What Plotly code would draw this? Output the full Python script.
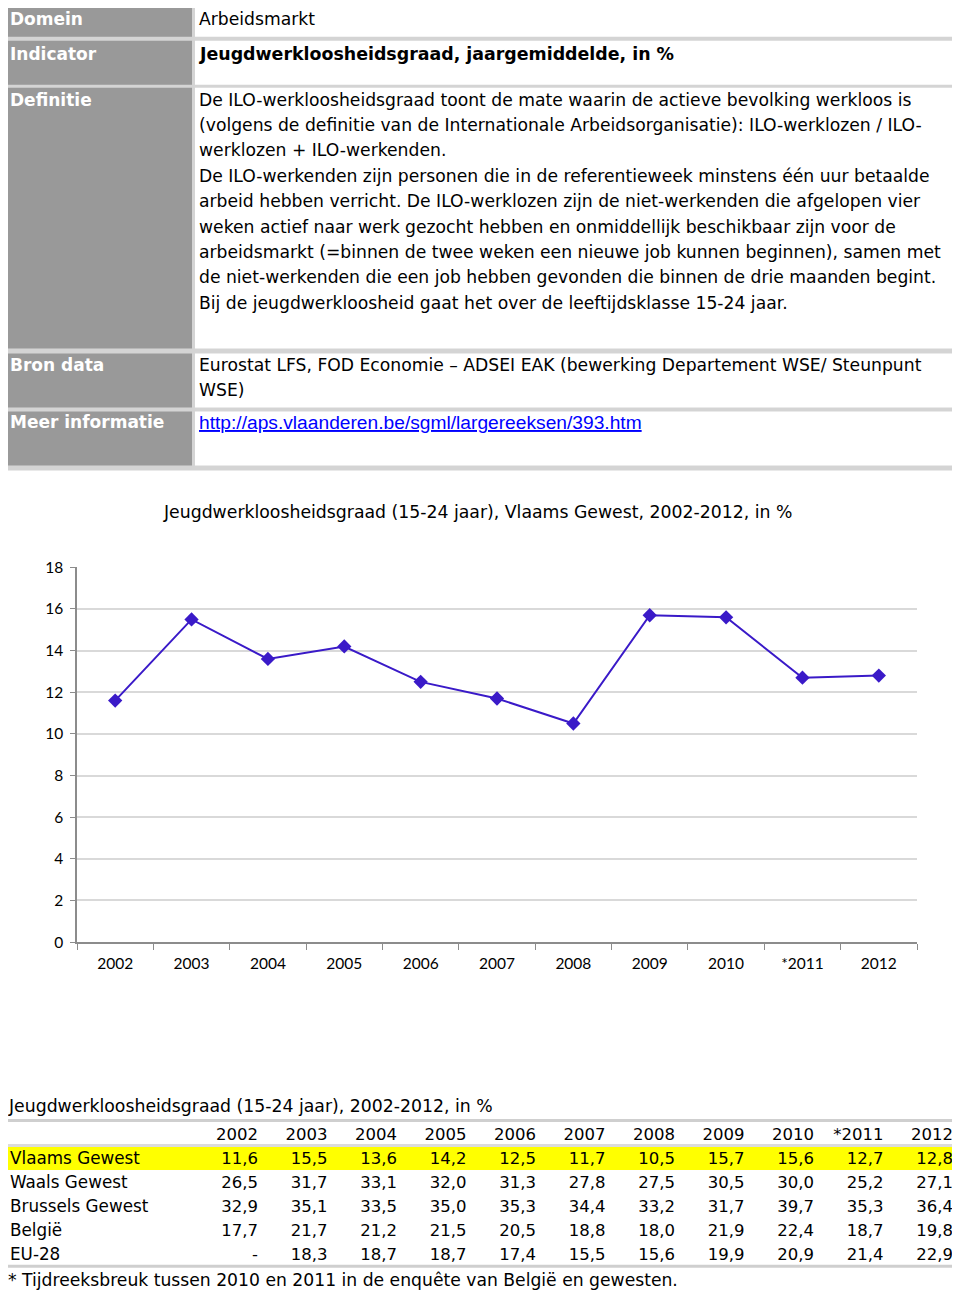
import plotly.graph_objects as go

# ---------------- data ----------------
years = ["2002", "2003", "2004", "2005", "2006", "2007", "2008", "2009", "2010", "*2011", "2012"]
vlaams = [11.6, 15.5, 13.6, 14.2, 12.5, 11.7, 10.5, 15.7, 15.6, 12.7, 12.8]
waals = ["26,5", "31,7", "33,1", "32,0", "31,3", "27,8", "27,5", "30,5", "30,0", "25,2", "27,1"]
brussel = ["32,9", "35,1", "33,5", "35,0", "35,3", "34,4", "33,2", "31,7", "39,7", "35,3", "36,4"]
belgie = ["17,7", "21,7", "21,2", "21,5", "20,5", "18,8", "18,0", "21,9", "22,4", "18,7", "19,8"]
eu28 = ["-", "18,3", "18,7", "18,7", "17,4", "15,5", "15,6", "19,9", "20,9", "21,4", "22,9"]
row_labels = ["Vlaams Gewest", "Waals Gewest", "Brussels Gewest", "België", "EU-28"]
y_ticks = [0, 2, 4, 6, 8, 10, 12, 14, 16, 18]

chart_title = "Jeugdwerkloosheidsgraad (15-24 jaar), Vlaams Gewest, 2002-2012, in %"
table_title = "Jeugdwerkloosheidsgraad (15-24 jaar), 2002-2012, in %"
footnote = "* Tijdreeksbreuk tussen 2010 en 2011 in de enquête van België en gewesten."

definitie = [
    "De ILO-werkloosheidsgraad toont de mate waarin de actieve bevolking werkloos is",
    "(volgens de definitie van de Internationale Arbeidsorganisatie): ILO-werklozen / ILO-",
    "werklozen + ILO-werkenden.",
    "De ILO-werkenden zijn personen die in de referentieweek minstens één uur betaalde",
    "arbeid hebben verricht. De ILO-werklozen zijn de niet-werkenden die afgelopen vier",
    "weken actief naar werk gezocht hebben en onmiddellijk beschikbaar zijn voor de",
    "arbeidsmarkt (=binnen de twee weken een nieuwe job kunnen beginnen), samen met",
    "de niet-werkenden die een job hebben gevonden die binnen de drie maanden begint.",
    "Bij de jeugdwerkloosheid gaat het over de leeftijdsklasse 15-24 jaar.",
]
bron = ["Eurostat LFS, FOD Economie – ADSEI EAK (bewerking Departement WSE/ Steunpunt", "WSE)"]
link = "http://aps.vlaanderen.be/sgml/largereeksen/393.htm"

W, H = 960, 1294
# page offset / effective drawing area of the figure in the photographed page
OX, OY, EH = 8.0, 17.2, 1277.0
def X(px): return (px - OX) / W
def Y(py): return 1 - (py - OY) / EH

FONT = "DejaVu Sans"
fig = go.Figure()

shapes = []
ann = []
def rect(x0, y0, x1, y1, fill):
    shapes.append(dict(type="rect", xref="paper", yref="paper", x0=X(x0), x1=X(x1), y0=Y(y1), y1=Y(y0),
                       fillcolor=fill, line=dict(color=fill, width=0), layer="below"))
def text(x, y, s, size=17, color="black", bold=False, family=FONT, xanchor="left"):
    if bold:
        s = "<b>" + s + "</b>"
    ann.append(dict(xref="paper", yref="paper", x=X(x), y=Y(y), text=s, showarrow=False,
                    xanchor=xanchor, yanchor="middle", font=dict(size=size, color=color, family=family)))

# ---------------- top info table ----------------
rect(0, 2, 962, 470, "#d4d4d4")
rows = [(6, 36, "Domein", 18), (40, 84, "Indicator", 53), (87, 348, "Definitie", 99),
        (353, 407, "Bron data", 364), (411, 465, "Meer informatie", 422)]
for y0, y1, lab, ty in rows:
    rect(3, y0, 192, y1, "#999999")
    rect(195, y0, 955, y1, "#ffffff")
    text(8, ty, lab, size=17, color="white", bold=True)

text(197, 18, "Arbeidsmarkt", size=17.2)
text(197, 53, "Jeugdwerkloosheidsgraad, jaargemiddelde, in %", size=17.4, bold=True)
for i, line in enumerate(definitie):
    text(197, 99 + i * 25.4, line, size=17.2)
text(197, 364, bron[0], size=17.2)
text(197, 389, bron[1], size=17.2)
text(197, 422, "<u>" + link + "</u>", size=19.2, color="#0000ff", family="Liberation Sans")

# ---------------- chart ----------------
text(477, 512, chart_title, size=17.3, xanchor="center")
fig.add_trace(go.Scatter(x=years, y=vlaams, mode="lines+markers",
                         line=dict(color="#3a1ac8", width=2),
                         marker=dict(symbol="diamond", size=11, color="#3a1ac8"),
                         showlegend=False, hoverinfo="skip"))

fig.update_xaxes(domain=[X(77), X(917)], anchor="y", type="category", range=[-0.5, 10.5],
                 tickson="boundaries", ticks="outside", ticklen=6, tickcolor="#8c8c8c",
                 showline=True, linecolor="#8c8c8c", linewidth=1.5, showgrid=False,
                 ticklabelstandoff=7,
                 tickfont=dict(family="Lato", size=15.5, color="black"))
fig.update_yaxes(domain=[Y(942), Y(567)], anchor="x", range=[0, 18], tickvals=y_ticks,
                 ticks="outside", ticklen=5, tickcolor="#8c8c8c",
                 showline=True, linecolor="#8c8c8c", linewidth=1.5,
                 showgrid=True, gridcolor="#d9d9d9", gridwidth=1.5, zeroline=False,
                 ticklabelstandoff=4,
                 tickfont=dict(family="Lato", size=15.5, color="black"))

# ---------------- bottom data table ----------------
text(6, 1106, table_title, size=17.3)
rect(1, 1119, 962, 1268, "#cfcfcf")
rect(4, 1122, 956, 1265, "#ffffff")
rect(4, 1144, 956, 1147, "#dcdcdc")
rect(5, 1147, 953, 1170, "#ffff00")

for i, lab in enumerate(row_labels):
    text(8, 1158 + i * 24, lab, size=16.8)

cols = [[""] * len(row_labels)]
for j in range(len(years)):
    cols.append([f"{vlaams[j]:.1f}".replace(".", ","), waals[j], brussel[j], belgie[j], eu28[j]])
fig.add_trace(go.Table(
    domain=dict(x=[X(8), X(961)], y=[Y(1268), Y(1120)]),
    columnwidth=[188.5] + [69.5] * 11,
    header=dict(values=[""] + years, height=24, align="right",
                fill=dict(color="rgba(0,0,0,0)"), line=dict(width=0, color="rgba(0,0,0,0)"),
                font=dict(family=FONT, size=16.5, color="black")),
    cells=dict(values=cols, height=24, align="right",
               fill=dict(color="rgba(0,0,0,0)"), line=dict(width=0, color="rgba(0,0,0,0)"),
               font=dict(family=FONT, size=16.5, color="black")),
))
text(6, 1280, footnote, size=17.2)

fig.update_layout(width=W, height=H, margin=dict(l=0, r=0, t=0, b=0),
                  paper_bgcolor="white", plot_bgcolor="white",
                  shapes=shapes, annotations=ann, showlegend=False)
fig.write_html("out.html")
